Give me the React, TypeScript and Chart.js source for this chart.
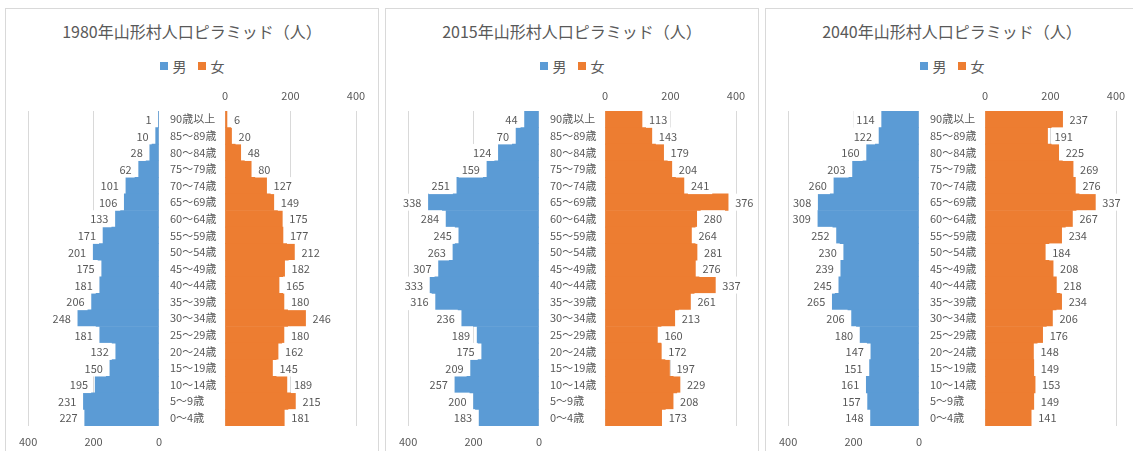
import React, { useEffect, useRef } from 'react';
import { Chart, registerables } from 'chart.js';

Chart.register(...registerables);

const FONT = "'Noto Sans CJK JP', 'Noto Sans', sans-serif";
Chart.defaults.font.family = FONT;
Chart.defaults.color = '#595959';

// ---- data ----
const ageGroups = [
  '90歳以上', '85～89歳', '80～84歳', '75～79歳', '70～74歳', '65～69歳', '60～64歳',
  '55～59歳', '50～54歳', '45～49歳', '40～44歳', '35～39歳', '30～34歳', '25～29歳',
  '20～24歳', '15～19歳', '10～14歳', '5～9歳', '0～4歳',
];

const male1980 = [1, 10, 28, 62, 101, 106, 133, 171, 201, 175, 181, 206, 248, 181, 132, 150, 195, 231, 227];
const female1980 = [6, 20, 48, 80, 127, 149, 175, 177, 212, 182, 165, 180, 246, 180, 162, 145, 189, 215, 181];

const male2015 = [44, 70, 124, 159, 251, 338, 284, 245, 263, 307, 333, 316, 236, 189, 175, 209, 257, 200, 183];
const female2015 = [113, 143, 179, 204, 241, 376, 280, 264, 281, 276, 337, 261, 213, 160, 172, 197, 229, 208, 173];

const male2040 = [114, 122, 160, 203, 260, 308, 309, 252, 230, 239, 245, 265, 206, 180, 147, 151, 161, 157, 148];
const female2040 = [237, 191, 225, 269, 276, 337, 267, 234, 184, 208, 218, 234, 206, 176, 148, 149, 153, 149, 141];

const years = ['1980', '2015', '2040'];
const titleSuffix = '年山形村人口ピラミッド（人）';
const maleLabel = '男';
const femaleLabel = '女';
const axisMin = 0;
const axisMax = 400;
const axisStep = 200;

const BLUE = '#5B9BD5';
const ORANGE = '#ED7D31';
const TEXT = '#595959';
const GRID = '#D9D9D9';

function valueLabelPlugin(side: 'left' | 'right') {
  return {
    id: 'valueLabels',
    afterDatasetsDraw(chart: any) {
      const ctx = chart.ctx;
      const meta = chart.getDatasetMeta(0);
      const data = chart.data.datasets[0].data as number[];
      ctx.save();
      ctx.font = `11px ${FONT}`;
      ctx.textBaseline = 'middle';
      ctx.textAlign = 'left';
      meta.data.forEach((bar: any, i: number) => {
        const txt = String(data[i]);
        const w = ctx.measureText(txt).width;
        const { x, y } = bar.getProps(['x', 'y'], true);
        const tx = side === 'left' ? x - 7 - w : x + 7;
        ctx.fillStyle = '#ffffff';
        ctx.fillRect(tx - 3, y - 8.5, w + 6, 17);
        ctx.fillStyle = TEXT;
        ctx.fillText(txt, tx, y + 0.5);
      });
      ctx.restore();
    },
  };
}

function maleConfig(values: number[]): any {
  return {
    type: 'bar',
    data: {
      labels: ageGroups,
      datasets: [{ label: maleLabel, data: values, backgroundColor: BLUE, barPercentage: 1, categoryPercentage: 1 }],
    },
    options: {
      indexAxis: 'y',
      responsive: false,
      animation: false,
      devicePixelRatio: 1,
      layout: { padding: { left: 18, right: 6, top: 31, bottom: 0 } },
      plugins: { legend: { display: false }, tooltip: { enabled: false } },
      scales: {
        x: {
          type: 'linear',
          position: 'bottom',
          reverse: true,
          min: axisMin,
          max: axisMax,
          ticks: { stepSize: axisStep, padding: 9, color: TEXT, font: { size: 11 } },
          grid: { color: GRID, drawTicks: false },
          border: { display: false },
          afterFit(s: any) { s.height = 25; },
        },
        y: { display: false },
      },
    },
    plugins: [valueLabelPlugin('left')],
  };
}

function femaleConfig(values: number[]): any {
  return {
    type: 'bar',
    data: {
      labels: ageGroups,
      datasets: [{ label: femaleLabel, data: values, backgroundColor: ORANGE, barPercentage: 1, categoryPercentage: 1 }],
    },
    options: {
      indexAxis: 'y',
      responsive: false,
      animation: false,
      devicePixelRatio: 1,
      layout: { padding: { left: 5, right: 21, top: 6, bottom: 25 } },
      plugins: { legend: { display: false }, tooltip: { enabled: false } },
      scales: {
        x: {
          type: 'linear',
          position: 'top',
          min: axisMin,
          max: axisMax,
          ticks: { stepSize: axisStep, padding: 9, color: TEXT, font: { size: 11 } },
          grid: { color: GRID, drawTicks: false },
          border: { display: false },
          afterFit(s: any) { s.height = 25; },
        },
        y: {
          position: 'left',
          grid: { display: false, drawTicks: false },
          border: { display: false },
          ticks: { crossAlign: 'far', padding: 0, color: TEXT, font: { size: 11 } },
          afterFit(s: any) { s.width = 55; },
        },
      },
    },
    plugins: [valueLabelPlugin('right')],
  };
}

function Pyramid({ year, male, female, left }: { year: string; male: number[]; female: number[]; left: number }) {
  const mRef = useRef<HTMLCanvasElement>(null);
  const fRef = useRef<HTMLCanvasElement>(null);
  useEffect(() => {
    const mc = new Chart(mRef.current as HTMLCanvasElement, maleConfig(male));
    const fc = new Chart(fRef.current as HTMLCanvasElement, femaleConfig(female));
    return () => {
      mc.destroy();
      fc.destroy();
    };
  }, [male, female]);

  const sq = (c: string) => (
    <span style={{ display: 'inline-block', width: 8, height: 8, background: c, marginRight: 5 }} />
  );

  return (
    <div
      style={{
        position: 'absolute',
        left,
        top: 8,
        width: 374,
        height: 460,
        border: `1px solid ${GRID}`,
        boxSizing: 'border-box',
        background: '#fff',
        fontFamily: FONT,
        color: TEXT,
      }}
    >
      <div
        style={{
          position: 'absolute',
          left: 0,
          right: 0,
          top: 10,
          textAlign: 'center',
          fontSize: 16,
          lineHeight: '24px',
          whiteSpace: 'nowrap',
        }}
      >
        {year + titleSuffix}
      </div>
      <div
        style={{
          position: 'absolute',
          left: 0,
          right: 0,
          top: 47,
          height: 20,
          display: 'flex',
          justifyContent: 'center',
          alignItems: 'center',
          fontSize: 14,
          lineHeight: '20px',
        }}
      >
        <span style={{ display: 'flex', alignItems: 'center', marginRight: 11 }}>
          {sq(BLUE)}
          {maleLabel}
        </span>
        <span style={{ display: 'flex', alignItems: 'center' }}>
          {sq(ORANGE)}
          {femaleLabel}
        </span>
      </div>
      <canvas ref={mRef} width={161} height={371} style={{ position: 'absolute', left: 4, top: 71 }} />
      <canvas ref={fRef} width={212} height={371} style={{ position: 'absolute', left: 159, top: 71 }} />
    </div>
  );
}

const maleSeries = [male1980, male2015, male2040];
const femaleSeries = [female1980, female2015, female2040];
const panelLefts = [5, 385, 765];

export default function App() {
  return (
    <div
      style={{
        position: 'absolute',
        left: 0,
        top: 0,
        width: 1133,
        height: 451,
        overflow: 'hidden',
        background: '#fff',
      }}
    >
      {years.map((y, i) => (
        <Pyramid key={y} year={y} male={maleSeries[i]} female={femaleSeries[i]} left={panelLefts[i]} />
      ))}
    </div>
  );
}
